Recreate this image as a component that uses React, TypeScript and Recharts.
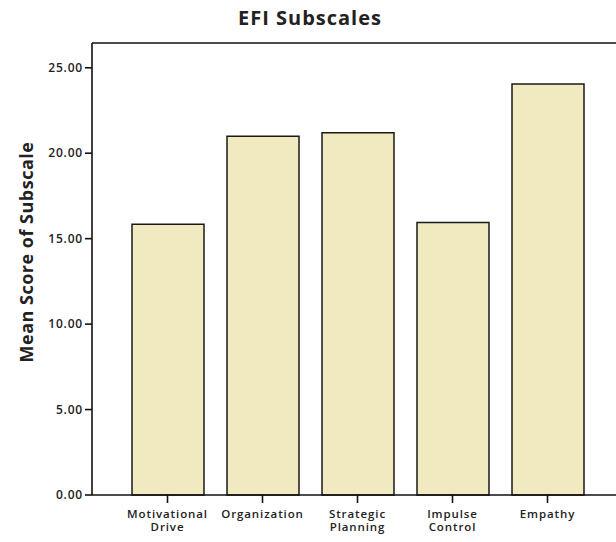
import React from 'react';
import { BarChart, Bar, XAxis, YAxis, ReferenceLine } from 'recharts';

const subscales = ['Motivational\nDrive', 'Organization', 'Strategic\nPlanning', 'Impulse\nControl', 'Empathy'];
const meanScores = [15.85, 21.0, 21.2, 15.95, 24.05];
const yTicks = [0, 5, 10, 15, 20, 25];
const yMax = 26.45;

const FONT = '"Open Sans", sans-serif';

const chartData = subscales.map((name, i) => ({ name, score: meanScores[i] }));

// two-line category labels like the SPSS output
const CategoryTick = (props: any) => {
  const { x, y, payload } = props;
  const lines = String(payload.value).split('\n');
  return (
    <text x={x} y={y} textAnchor="middle" fill="#222" fontSize={11.5} fontWeight={600} letterSpacing={0.9} fontFamily={FONT}>
      {lines.map((line, i) => (
        <tspan key={i} x={x} dy={i === 0 ? 12.5 : 13.5}>
          {line}
        </tspan>
      ))}
    </text>
  );
};

export default function App() {
  return (
    <div style={{ position: 'fixed', left: 0, top: 0, width: 616, height: 542, overflow: 'hidden', background: '#fff' }}>
      <div
        style={{
          position: 'absolute',
          left: 160,
          width: 300,
          top: 4,
          textAlign: 'center',
          fontFamily: FONT,
          fontWeight: 700,
          fontSize: 20,
          letterSpacing: 1,
          color: '#222',
        }}
      >
        EFI Subscales
      </div>
      <div
        style={{
          position: 'absolute',
          left: 26 - 150,
          top: 252 - 12,
          width: 300,
          height: 24,
          lineHeight: '24px',
          textAlign: 'center',
          transform: 'rotate(-90deg)',
          fontFamily: FONT,
          fontWeight: 700,
          fontSize: 18,
          letterSpacing: 0.5,
          color: '#222',
        }}
      >
        Mean Score of Subscale
      </div>
      <BarChart
        width={640}
        height={542}
        data={chartData}
        margin={{ top: 43, right: 16, bottom: 0, left: 0 }}
        style={{ position: 'absolute', left: 0, top: 0 }}
      >
        <XAxis
          dataKey="name"
          height={47}
          interval={0}
          padding={{ left: 28, right: 29 }}
          tickSize={8}
          tickMargin={2}
          tick={<CategoryTick />}
          axisLine={{ stroke: '#111', strokeWidth: 1.6 }}
          tickLine={{ stroke: '#111', strokeWidth: 1.6 }}
        />
        <YAxis
          width={92}
          domain={[0, yMax]}
          ticks={yTicks}
          tickSize={7}
          tickMargin={2}
          tickFormatter={(v: number) => v.toFixed(2)}
          tick={{ fill: '#222', fontSize: 12, fontWeight: 600, letterSpacing: 0.8, fontFamily: FONT }}
          axisLine={{ stroke: '#111', strokeWidth: 1.6 }}
          tickLine={{ stroke: '#111', strokeWidth: 1.6 }}
        />
        <ReferenceLine y={yMax} stroke="#111" strokeWidth={1.6} />
        <Bar
          dataKey="score"
          barSize={72}
          fill="#F1E9C0"
          stroke="#1a1a1a"
          strokeWidth={1.5}
          isAnimationActive={false}
        />
      </BarChart>
    </div>
  );
}
